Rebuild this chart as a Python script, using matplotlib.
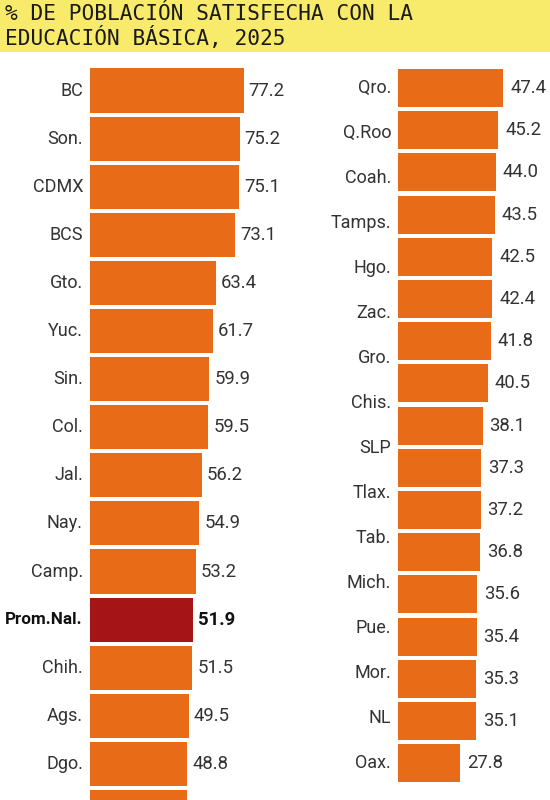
import matplotlib
matplotlib.use("Agg")
import matplotlib.pyplot as plt
import numpy as np

# ---- data ----
title_text = "% DE POBLACIÓN SATISFECHA CON LA\nEDUCACIÓN BÁSICA, 2025"

left_labels = ["BC", "Son.", "CDMX", "BCS", "Gto.", "Yuc.", "Sin.", "Col.", "Jal.",
               "Nay.", "Camp.", "Prom.Nal.", "Chih.", "Ags.", "Dgo.", ""]
left_values = [77.2, 75.2, 75.1, 73.1, 63.4, 61.7, 59.9, 59.5, 56.2,
               54.9, 53.2, 51.9, 51.5, 49.5, 48.8, 48.5]

right_labels = ["Qro.", "Q.Roo", "Coah.", "Tamps.", "Hgo.", "Zac.", "Gro.", "Chis.",
                "SLP", "Tlax.", "Tab.", "Mich.", "Pue.", "Mor.", "NL", "Oax."]
right_values = [47.4, 45.2, 44.0, 43.5, 42.5, 42.4, 41.8, 40.5, 38.1,
                37.3, 37.2, 36.8, 35.6, 35.4, 35.3, 35.1, 27.8]

highlight = "Prom.Nal."

# ---- style ----
ORANGE = "#E86C17"
DARKRED = "#A51416"
YELLOW = "#F8EA6A"
TXT = "#333333"
FONT = ["Roboto", "DejaVu Sans"]
FS_LAB = 13.0
FS_VAL = 13.3

W, H = 550, 800
fig = plt.figure(figsize=(5.5, 8), dpi=100)
fig.patch.set_facecolor("white")

# title band
band = fig.add_axes([0, 1 - 52 / H, 1, 52 / H])
band.set_facecolor(YELLOW)
band.set_xticks([]); band.set_yticks([])
for s in band.spines.values():
    s.set_visible(False)
fig.text(5 / W, 1 - 26.5 / H, title_text, family="DejaVu Sans Mono", fontsize=15.2,
         color="#1a1a1a", ha="left", va="center", linespacing=1.15)

def make_axes(x0, x1, ytop, ybot):
    ax = fig.add_axes([x0 / W, 1 - ybot / H, (x1 - x0) / W, (ybot - ytop) / H])
    ax.set_facecolor("none")
    ax.axis("off")
    return ax

# ---- left column ----
pitchL = 48.1
c0L = 90.5
axL = make_axes(90, 90 + 199, c0L - pitchL / 2, 800)
nL = len(left_values)
yL = np.arange(nL)
colsL = [DARKRED if l == highlight else ORANGE for l in left_labels]
axL.barh(yL, left_values, height=0.915, color=colsL)
axL.set_xlim(0, 100)
axL.set_ylim(-0.5 + (800 - (c0L - pitchL / 2)) / pitchL, -0.5)
for i, (lab, v) in enumerate(zip(left_labels, left_values)):
    if not lab:
        continue
    bold = lab == highlight
    c = "#111111" if bold else TXT
    axL.annotate(lab, xy=(0, i), xytext=(-7, 0), textcoords="offset pixels",
                 ha="right", va="center", fontsize=12.3 if bold else FS_LAB, family=FONT,
                 fontweight="bold" if bold else "normal", color=c, annotation_clip=False)
    axL.annotate(f"{v:.1f}", xy=(v, i), xytext=(5, 0), textcoords="offset pixels",
                 ha="left", va="center", fontsize=FS_VAL, family=FONT,
                 fontweight="bold" if bold else "normal", color=c, annotation_clip=False)

# ---- right column ----
pitchR = 42.2
c0R = 88.0
nR = len(right_values)
axR = make_axes(398, 398 + 133.2, c0R - pitchR / 2, c0R + pitchR * (nR - 0.5))
yR = np.arange(nR)
axR.barh(yR, right_values, height=0.9, color=ORANGE)
axR.set_xlim(0, 60)
axR.set_ylim(nR - 0.5, -0.5)
for i, v in enumerate(right_values):
    axR.annotate(f"{v:.1f}", xy=(v, i), xytext=(7, 0), textcoords="offset pixels",
                 ha="left", va="center", fontsize=FS_VAL, family=FONT, color=TXT,
                 annotation_clip=False)
lab_pos = np.linspace(0, nR - 1, len(right_labels))
for lab, yp in zip(right_labels, lab_pos):
    axR.annotate(lab, xy=(0, yp), xytext=(-7, 0), textcoords="offset pixels",
                 ha="right", va="center", fontsize=FS_LAB, family=FONT, color=TXT,
                 annotation_clip=False)

fig.savefig("out.png", dpi=100)
